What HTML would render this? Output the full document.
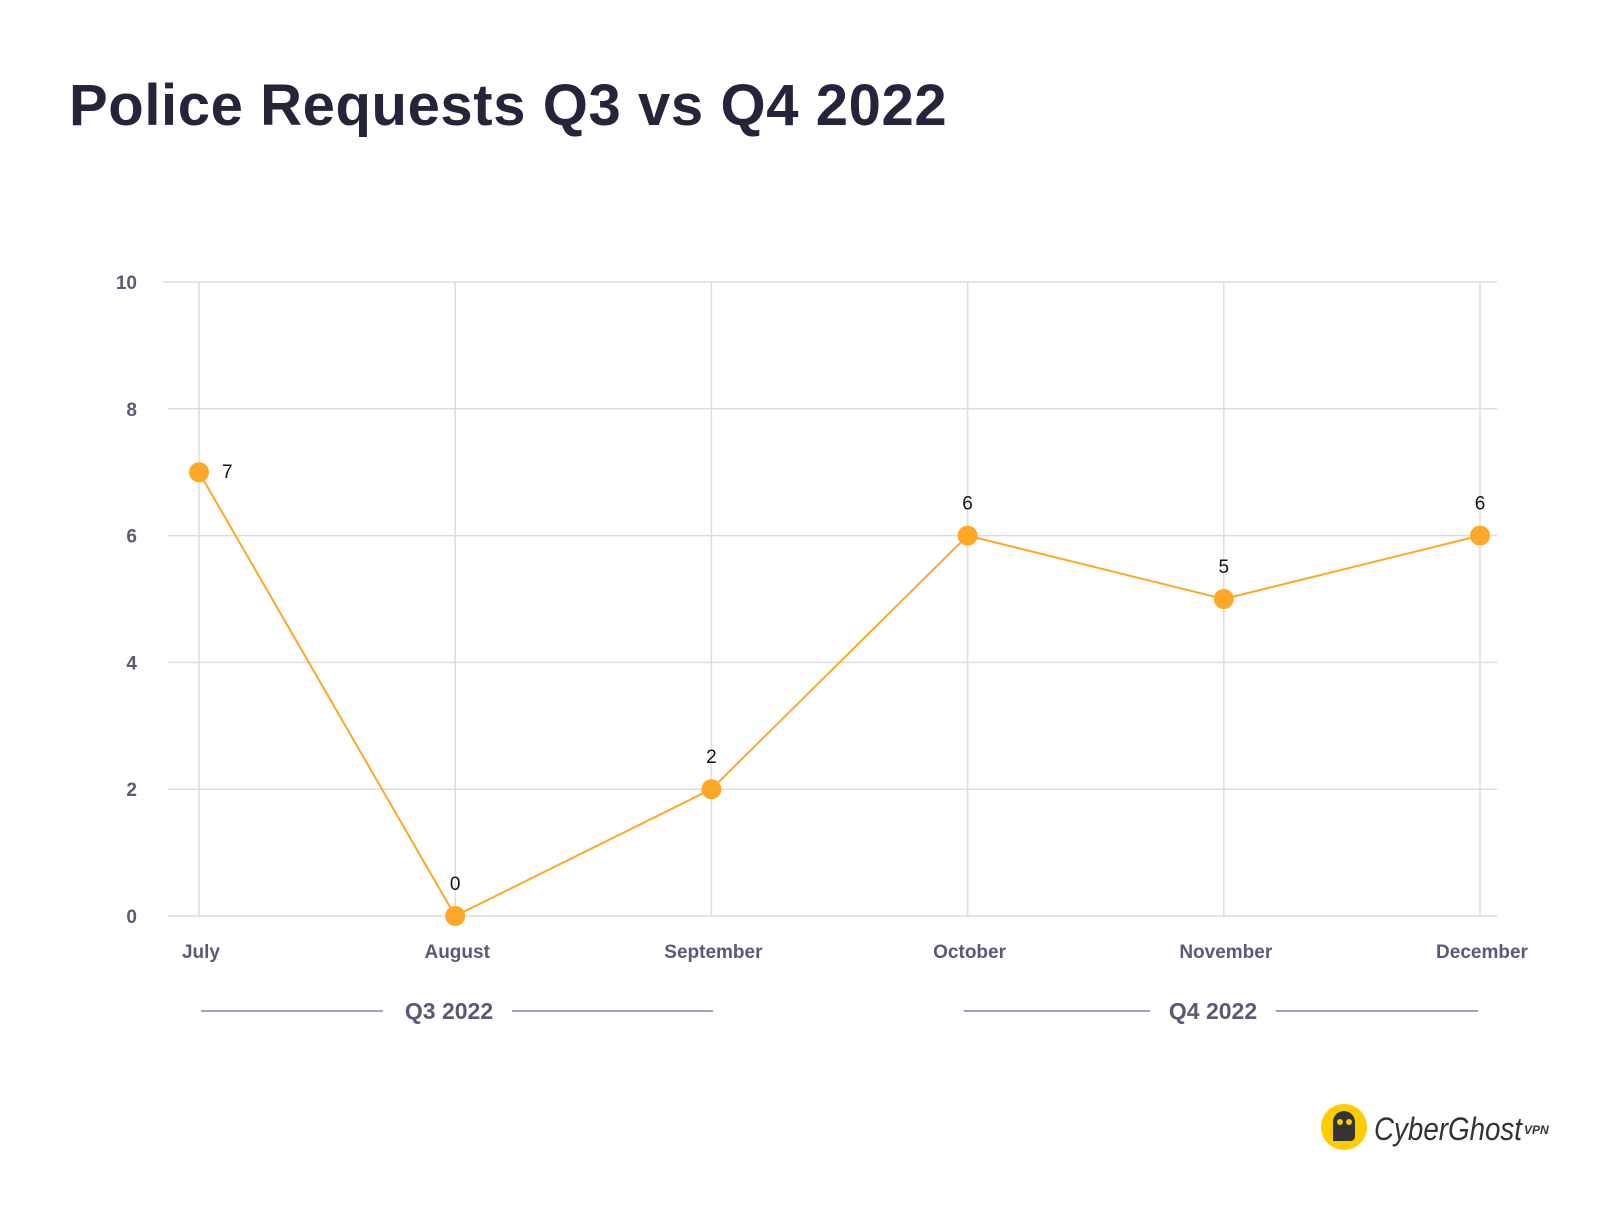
<!DOCTYPE html>
<html><head><meta charset="utf-8"><style>
body{margin:0;background:#fff;width:1600px;height:1200px;overflow:hidden;font-family:"Liberation Sans",sans-serif}
</style></head><body>
<svg width="1600" height="1200">
<text x="69" y="125" font-size="58" font-weight="bold" fill="#24243a" letter-spacing="0.6">Police Requests Q3 vs Q4 2022</text>
<g id="grid"></g><g id="series"></g>
<g>
<line x1="201" y1="1011" x2="383" y2="1011" stroke="#6a6a90" stroke-width="1.2"/>
<line x1="512" y1="1011" x2="713" y2="1011" stroke="#6a6a90" stroke-width="1.2"/>
<text x="449" y="1019" text-anchor="middle" font-size="23" font-weight="bold" fill="#5a5a78">Q3 2022</text></g>
<g>
<line x1="964" y1="1011" x2="1150" y2="1011" stroke="#6a6a90" stroke-width="1.2"/>
<line x1="1276" y1="1011" x2="1478" y2="1011" stroke="#6a6a90" stroke-width="1.2"/>
<text x="1213" y="1019" text-anchor="middle" font-size="23" font-weight="bold" fill="#5a5a78">Q4 2022</text></g>
<g>
<circle cx="1344" cy="1127" r="23" fill="#ffcc00"/>
<path d="M1333 1141 V1122 a11 11 0 0 1 22 0 V1136 q0 4 -4 5 Z" fill="#333"/>
<circle cx="1340" cy="1122" r="3" fill="#ffcc00"/><circle cx="1349" cy="1122" r="3" fill="#ffcc00"/>
<text x="1374" y="1140" font-size="32" font-style="italic" fill="#333" textLength="148" lengthAdjust="spacingAndGlyphs">CyberGhost</text>
<text x="1524" y="1134" font-size="12" font-weight="bold" font-style="italic" fill="#333">VPN</text></g>
</svg>
<script>
const months=["July","August","September","October","November","December"];
const values=[7,0,2,6,5,6];
const yTicks=[0,2,4,6,8,10];
const NS="http://www.w3.org/2000/svg";
const x=i=>199+i*256.2, y=v=>916-v*63.4;
function mk(t,a,p){const e=document.createElementNS(NS,t);for(const k in a)e.setAttribute(k,a[k]);p.appendChild(e);return e;}
const g=document.getElementById('grid'),s=document.getElementById('series');
yTicks.forEach(v=>{
 const l=mk('line',{x1:v==10?163:168,x2:1497,y1:y(v),y2:y(v),stroke:"#dcdce2","stroke-width":1.5},g);
 
 
 const t=mk('text',{x:137,y:y(v)+7,"text-anchor":"end","font-size":19,"font-weight":"bold",fill:"#5a5a78"},g);
 t.textContent=v;
 
 
});
months.forEach((m,i)=>{
 const l=mk('line',{x1:x(i),x2:x(i),y1:y(10),y2:y(0),stroke:"#dcdce2","stroke-width":1.5},g);
 
 
 const t=mk('text',{x:x(i)+2,y:958,"text-anchor":"middle","font-size":19,"font-weight":"bold",fill:"#5a5a78"},g);
 t.textContent=m;
 
 
});
const pl=mk('polyline',{points:values.map((v,i)=>x(i)+','+y(v)).join(' '),fill:"none",stroke:"#ffa726","stroke-width":2},s);


values.forEach((v,i)=>{
 const c=mk('circle',{cx:x(i),cy:y(v),r:10,fill:"#ffa726"},s);
 
 
 const t=mk('text',i==0?{x:x(i)+23,y:y(v)+6}:{x:x(i),y:y(v)-26,"text-anchor":"middle"},s);
 t.setAttribute('font-size',19);t.setAttribute('fill','#111');
 t.textContent=v;
 
 
});
</script>
</body></html>
